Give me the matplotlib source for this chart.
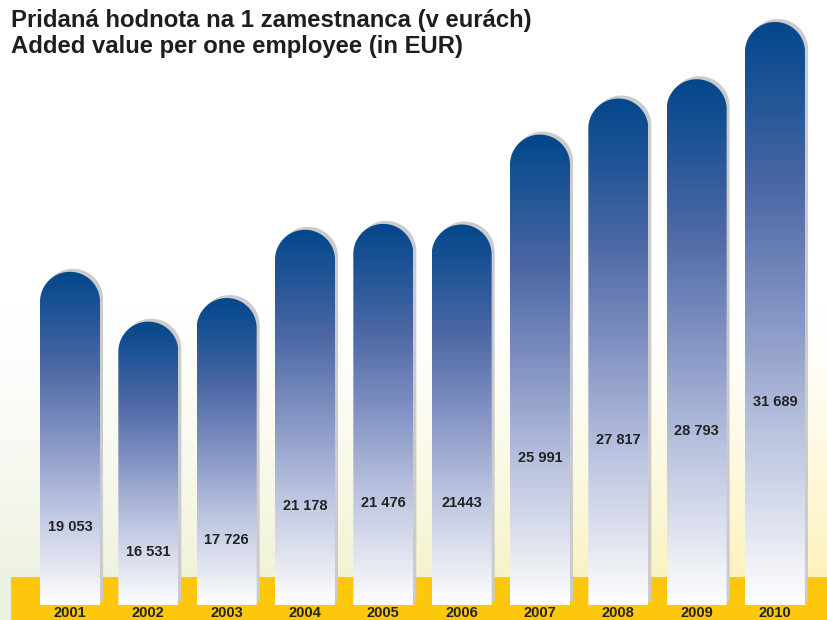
import numpy as np
import matplotlib
matplotlib.use("Agg")
import matplotlib.pyplot as plt
from matplotlib.path import Path
from matplotlib.patches import PathPatch, Rectangle
from matplotlib.colors import LinearSegmentedColormap
import matplotlib.transforms as mtransforms

# ---- data ----
years = ["2001", "2002", "2003", "2004", "2005", "2006", "2007", "2008", "2009", "2010"]
values = [19053, 16531, 17726, 21178, 21476, 21443, 25991, 27817, 28793, 31689]
value_labels = ["19 053", "16 531", "17 726", "21 178", "21 476", "21443",
                "25 991", "27 817", "28 793", "31 689"]
title_sk = "Pridaná hodnota na 1 zamestnanca (v eurách)"
title_en = "Added value per one employee (in EUR)"

plt.rcParams['font.family'] = ['Liberation Sans', 'DejaVu Sans']

W, H = 828, 620
fig = plt.figure(figsize=(W / 100, H / 100), dpi=100)
fig.patch.set_facecolor("white")

# ---- faint background ----
ax_bg = fig.add_axes([0, 0, 1, 1], zorder=-5)
ax_bg.set_axis_off()
ny, nx = 200, 60
yy = np.linspace(0, 1, ny)[:, None]          # 0 top, 1 bottom
xx = np.linspace(0, 1, nx)[None, :]
alpha = np.clip((yy - 0.50) / 0.45, 0, 1) ** 1.3 * 0.75
left_col = np.array([0.90, 0.93, 0.84])
right_col = np.array([0.99, 0.93, 0.62])
col = left_col[None, None, :] * (1 - xx[..., None]) + right_col[None, None, :] * xx[..., None]
img = np.ones((ny, nx, 3)) * (1 - alpha[..., None]) + col * alpha[..., None]
ax_bg.imshow(img, extent=[0, 1, 0, 1], aspect='auto', interpolation='bilinear', origin='upper')
ax_bg.set_xlim(0, 1)
ax_bg.set_ylim(0, 1)

# ---- main axes ----
bottom_px = 15
ax = fig.add_axes([0, bottom_px / H, 1, (H - bottom_px) / H])
ax.set_axis_off()
ax.patch.set_alpha(0)
spacing_px = 78.33
x0_px = 70
xlim = (-x0_px / spacing_px, (W - x0_px) / spacing_px)
ylim = (2200, 32800)          # truncated value axis, bars start at the floor
ax.set_xlim(*xlim)
ax.set_ylim(*ylim)
base = ylim[0]

bar_w = 60 / spacing_px
p0 = ax.transData.transform((0, 0))
p1 = ax.transData.transform((1, 1))
px_per_y = p1[1] - p0[1]
ry = 30 / px_per_y
rx = bar_w / 2

cmap = LinearSegmentedColormap.from_list(
    "barfade",
    [(0.0, "#ffffff"), (0.12, "#e3e6f1"), (0.3, "#b9c2df"),
     (0.5, "#8494c4"), (0.72, "#4b67a4"), (0.88, "#1f5496"), (1.0, "#03478b")])
grad = np.linspace(0, 1, 256).reshape(-1, 1)

# yellow band
band = Rectangle((11 / W, 0), 1, 43 / H, transform=fig.transFigure,
                 facecolor="#fdc80c", edgecolor="none", zorder=1, clip_on=False)
ax.add_patch(band)

shadow_tr = ax.transData + mtransforms.ScaledTranslation(3 / 100, 3 / 100, fig.dpi_scale_trans)

for i, v in enumerate(values):
    cx = i
    t = np.linspace(np.pi, 0, 60)
    xs = np.concatenate([[cx - rx], cx + rx * np.cos(t), [cx + rx]])
    ys = np.concatenate([[base], (v - ry) + ry * np.sin(t), [base]])
    verts = np.column_stack([xs, ys])
    verts = np.vstack([verts, verts[:1]])
    codes = [Path.MOVETO] + [Path.LINETO] * (len(verts) - 2) + [Path.CLOSEPOLY]
    path = Path(verts, codes)

    sh = PathPatch(path, facecolor="#cbcbcb", edgecolor="none", zorder=2,
                   transform=shadow_tr, clip_on=False)
    ax.add_patch(sh)

    bar = PathPatch(path, facecolor="none", edgecolor="none", zorder=3)
    ax.add_patch(bar)
    im = ax.imshow(grad, cmap=cmap, extent=[cx - rx, cx + rx, base, v], origin='lower',
                   aspect='auto', interpolation='bilinear', zorder=3, vmin=0, vmax=1)
    im.set_clip_path(bar)

    ly = v * 0.5 - 3380
    ax.text(cx, ly, value_labels[i], ha='center', va='center', fontsize=10.5,
            fontweight='bold', color='#232323', zorder=5)

    ax.annotate(years[i], xy=(cx, 0), xycoords=('data', 'figure pixels'),
                ha='center', va='bottom', fontsize=10.5, fontweight='bold',
                color='#232323', zorder=5, annotation_clip=False)

ax.set_xlim(*xlim)
ax.set_ylim(*ylim)

fig.text(11 / W, 1 - 20 / H, title_sk, ha='left', va='center', fontsize=17.2,
         fontweight='bold', color='#1e1e1e')
fig.text(11 / W, 1 - 47 / H, title_en, ha='left', va='center', fontsize=17.2,
         fontweight='bold', color='#1e1e1e')

fig.savefig("out.png", dpi=100)
